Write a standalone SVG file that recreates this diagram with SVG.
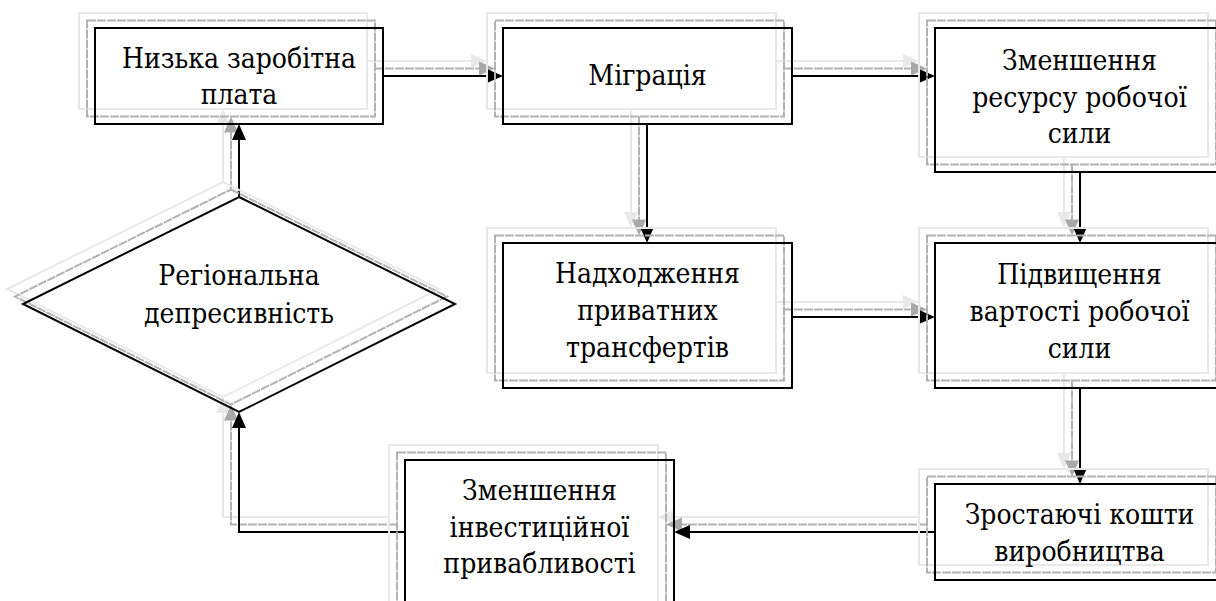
<svg xmlns="http://www.w3.org/2000/svg" width="1216" height="601" viewBox="0 0 1216 601">
<style>
.k{fill:none;stroke:#000;stroke-width:2}
.g1{fill:none;stroke:#b2b2b2;stroke-width:2;stroke-dasharray:9 1}
.g2{fill:none;stroke:#e8e8e8;stroke-width:2}
.hk{fill:#000}
.h1{fill:#a9a9a9}
.h2{fill:#e8e8e8}
</style>
<defs>
<path id="hr" d="M0,0L-16,-7L-16,7z"/>
<path id="hl" d="M0,0L16,-7L16,7z"/>
<path id="hd" d="M0,0L-7,-16L7,-16z"/>
<path id="hu" d="M0,0L-7,16L7,16z"/>
</defs>
<g id="connectors">
<g transform="translate(-16,-15)">
<g class="g2">
<path d="M383,76H490"/>
<path d="M792,76H922"/>
<path d="M647,124V230"/>
<path d="M792,317H922"/>
<path d="M1080,172V230"/>
<path d="M1080,388V471"/>
<path d="M935,532H687"/>
<path d="M405,532H239V425"/>
<path d="M239,197V137"/>
</g>
<g class="h2">
<use href="#hr" x="503" y="76"/><use href="#hr" x="935" y="76"/><use href="#hd" x="647" y="243"/><use href="#hr" x="935" y="317"/><use href="#hd" x="1080" y="243"/><use href="#hd" x="1080" y="484"/><use href="#hl" x="674" y="532"/><use href="#hu" x="239" y="412"/><use href="#hu" x="239" y="124"/>
</g>
</g>
<g transform="translate(-8,-7.5)">
<g class="g1">
<path d="M383,76H490"/>
<path d="M792,76H922"/>
<path d="M647,124V230"/>
<path d="M792,317H922"/>
<path d="M1080,172V230"/>
<path d="M1080,388V471"/>
<path d="M935,532H687"/>
<path d="M405,532H239V425"/>
<path d="M239,197V137"/>
</g>
<g class="h1">
<use href="#hr" x="503" y="76"/><use href="#hr" x="935" y="76"/><use href="#hd" x="647" y="243"/><use href="#hr" x="935" y="317"/><use href="#hd" x="1080" y="243"/><use href="#hd" x="1080" y="484"/><use href="#hl" x="674" y="532"/><use href="#hu" x="239" y="412"/><use href="#hu" x="239" y="124"/>
</g>
</g>
<g class="k">
<path d="M383,76H490"/>
<path d="M792,76H922"/>
<path d="M647,124V230"/>
<path d="M792,317H922"/>
<path d="M1080,172V230"/>
<path d="M1080,388V471"/>
<path d="M935,532H687"/>
<path d="M405,532H239V425"/>
<path d="M239,197V137"/>
</g>
<g class="hk">
<use href="#hr" x="503" y="76"/><use href="#hr" x="935" y="76"/><use href="#hd" x="647" y="243"/><use href="#hr" x="935" y="317"/><use href="#hd" x="1080" y="243"/><use href="#hd" x="1080" y="484"/><use href="#hl" x="674" y="532"/><use href="#hu" x="239" y="412"/><use href="#hu" x="239" y="124"/>
</g>
</g>
<g font-family="DejaVu Serif Condensed, DejaVu Serif, serif" font-stretch="condensed" font-size="28" text-anchor="middle" fill="#000">
<g id="n1">
<rect class="g2" x="79" y="13" width="288" height="96"/>
<rect class="g1" x="87" y="20.5" width="288" height="96"/>
<rect class="k" x="95" y="28" width="288" height="96"/>
<text x="239" y="68">Низька заробітна</text>
<text x="239" y="104">плата</text>
</g>
<g id="n2">
<rect class="g2" x="487" y="13" width="289" height="96"/>
<rect class="g1" x="495" y="20.5" width="289" height="96"/>
<rect class="k" x="503" y="28" width="289" height="96"/>
<text x="647.5" y="85">Міграція</text>
</g>
<g id="n3">
<rect class="g2" x="919" y="13" width="289" height="144"/>
<rect class="g1" x="927" y="20.5" width="289" height="144"/>
<rect class="k" x="935" y="28" width="289" height="144"/>
<text x="1079.5" y="70">Зменшення</text>
<text x="1079.5" y="107">ресурсу робочої</text>
<text x="1079.5" y="143">сили</text>
</g>
<g id="n4">
<rect class="g2" x="487" y="228" width="289" height="145"/>
<rect class="g1" x="495" y="235.5" width="289" height="145"/>
<rect class="k" x="503" y="243" width="289" height="145"/>
<text x="647.5" y="283">Надходження</text>
<text x="647.5" y="320">приватних</text>
<text x="647.5" y="357">трансфертів</text>
</g>
<g id="n5">
<rect class="g2" x="919" y="228" width="289" height="145"/>
<rect class="g1" x="927" y="235.5" width="289" height="145"/>
<rect class="k" x="935" y="243" width="289" height="145"/>
<text x="1079.5" y="284">Підвищення</text>
<text x="1079.5" y="321">вартості робочої</text>
<text x="1079.5" y="358">сили</text>
</g>
<g id="n6">
<rect class="g2" x="919" y="469" width="289" height="96"/>
<rect class="g1" x="927" y="476.5" width="289" height="96"/>
<rect class="k" x="935" y="484" width="289" height="96"/>
<text x="1079.5" y="524">Зростаючі кошти</text>
<text x="1079.5" y="561">виробництва</text>
</g>
<g id="n7">
<rect class="g2" x="389" y="445" width="269" height="170"/>
<rect class="g1" x="397" y="452.5" width="269" height="170"/>
<rect class="k" x="405" y="460" width="269" height="170"/>
<text x="539.5" y="500">Зменшення</text>
<text x="539.5" y="537">інвестиційної</text>
<text x="539.5" y="573">привабливості</text>
</g>
<g id="n8">
<polygon class="g2" points="223,182 439,289 223,397 7,289"/>
<polygon class="g1" points="231,189.5 447,296.5 231,404.5 15,296.5"/>
<polygon class="k" points="239,197 455,304 239,412 23,304"/>
<text x="239" y="285">Регіональна</text>
<text x="239" y="323">депресивність</text>
</g>
</g>
</svg>
